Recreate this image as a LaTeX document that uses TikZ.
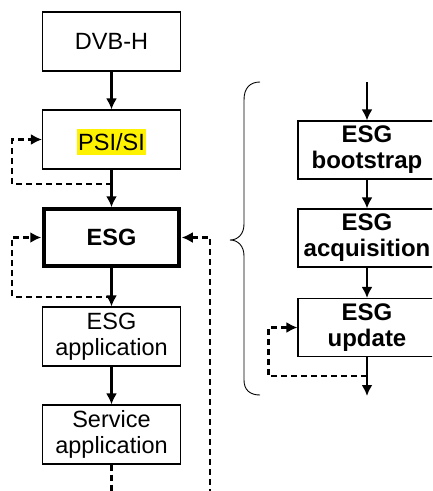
\documentclass[tikz,border=0pt]{standalone}
\usepackage{fontspec}
\setmainfont{Liberation Sans}
\usetikzlibrary{arrows.meta,calc}
\begin{document}
\begin{tikzpicture}[x=1pt,y=-1pt,
  box/.style={draw, line width=1.1pt, minimum width=138pt, minimum height=59pt, inner sep=0pt, align=center,
    font=\fontsize{23.5}{25.5}\selectfont},
  thickbox/.style={box, line width=3.5pt, minimum width=135pt, minimum height=57pt, font=\fontsize{23.5}{25.5}\selectfont\bfseries},
  rbox/.style={box, minimum height=58pt, font=\fontsize{24}{26}\selectfont\bfseries},
  arr/.style={line width=2.3pt, -{Latex[length=11pt,width=11pt]}},
  dsh/.style={line width=2.3pt, dash pattern=on 6pt off 4pt},
  dsharr/.style={dsh, -{Latex[length=11pt,width=11pt]}},
  brace/.style={line width=0.9pt}
]
\clip (0,0) rectangle (432,491);
\fill[white] (0,0) rectangle (432,491);
% left column
\node[box] (dvb) at (111.5,41.5) {DVB-H};
\node[box] (psi) at (111.5,139.5) {};
\node[fill=yellow, inner xsep=1.5pt, inner ysep=0pt, text height=21pt, text depth=5pt,
  font=\fontsize{23.5}{25.5}\selectfont] (psitxt) at (111.5,142) {PSI/SI};
\node[thickbox] (esg) at (111.5,237.5) {ESG};
\node[box] (esgapp) at (111.5,336.5) {ESG\\application};
\node[box] (svc) at (111.5,434.5) {Service\\application};
\draw[arr] (dvb) -- (psi);
\draw[arr] (psi) -- (esg);
\draw[arr] (esg) -- (esgapp);
\draw[arr] (esgapp) -- (svc);
\coordinate (j1) at (111.5,184);
\coordinate (j2) at (111.5,297);
\coordinate (s1) at (111.5,495);
\coordinate (r1) at (210,495);
\draw[dsharr] (j1) -| ([xshift=-30pt]psi.west) -- (psi.west);
\draw[dsharr] (j2) -| ([xshift=-30pt]esg.west) -- ([xshift=-1pt]esg.west);
\draw[dsh] (svc.south) -- (s1);
\draw[dsharr] (r1) |- ([xshift=1pt]esg.east);
% brace
\draw[brace] (260,82) .. controls (250,82) and (244,88) .. (244,100)
  -- (244,224) .. controls (244,234) and (238,240) .. (230,240)
  .. controls (238,240) and (244,246) .. (244,256)
  -- (244,380) .. controls (244,390) and (250,395) .. (260,395);
% right column
\node[rbox] (boot) at (367,150) {ESG\\bootstrap};
\node[rbox] (acq) at (367,238) {ESG\\acquisition};
\node[rbox] (upd) at (367,327.5) {ESG\\update};
\coordinate (rtop) at (367,82);
\coordinate (rbot) at (367,396);
\coordinate (j3) at (367,376);
\draw[arr] (rtop) -- (boot);
\draw[arr] (boot) -- (acq);
\draw[arr] (acq) -- (upd);
\draw[arr] (upd) -- (rbot);
\draw[dsharr] (j3) -| ([xshift=-29pt]upd.west) -- (upd.west);
\end{tikzpicture}
\end{document}
